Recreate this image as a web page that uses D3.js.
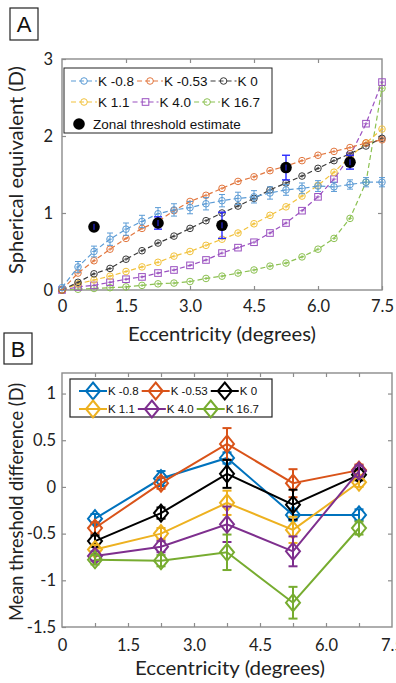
<!DOCTYPE html>
<html><head><meta charset="utf-8">
<script src="https://cdn.jsdelivr.net/npm/d3@7"></script>
<style>
html,body{margin:0;padding:0;background:#fff;}
svg{display:block;}
</style></head>
<body>
<svg id="chart" width="396" height="683"></svg>
<script>
// ---------- Panel A data ----------
const eccA = [0, 0.375, 0.75, 1.125, 1.5, 1.875, 2.25, 2.625, 3.0, 3.375, 3.75, 4.125, 4.5, 4.875, 5.25, 5.625, 6.0, 6.375, 6.75, 7.125, 7.5];
const seriesNamesA = ["K -0.8", "K -0.53", "K 0", "K 1.1", "K 4.0", "K 16.7"];
const kNeg08A  = [0.03, 0.30, 0.50, 0.66, 0.79, 0.89, 0.99, 1.04, 1.07, 1.12, 1.16, 1.19, 1.21, 1.26, 1.30, 1.32, 1.35, 1.34, 1.37, 1.40, 1.40];
const kNeg053A = [0.00, 0.22, 0.38, 0.53, 0.67, 0.80, 0.89, 1.03, 1.15, 1.23, 1.32, 1.41, 1.47, 1.55, 1.61, 1.68, 1.75, 1.80, 1.85, 1.91, 1.95];
const k0A      = [0.00, 0.10, 0.21, 0.28, 0.40, 0.51, 0.61, 0.70, 0.80, 0.90, 1.00, 1.09, 1.19, 1.30, 1.39, 1.48, 1.58, 1.68, 1.77, 1.87, 1.97];
const k11A     = [0.00, 0.08, 0.13, 0.18, 0.24, 0.30, 0.36, 0.44, 0.50, 0.58, 0.66, 0.74, 0.86, 0.97, 1.08, 1.22, 1.36, 1.53, 1.73, 1.91, 2.09];
const k40A     = [0.00, 0.04, 0.06, 0.10, 0.14, 0.17, 0.22, 0.26, 0.32, 0.39, 0.48, 0.55, 0.62, 0.74, 0.87, 1.03, 1.21, 1.44, 1.74, 2.16, 2.70];
const k167A    = [0.00, 0.01, 0.02, 0.03, 0.04, 0.06, 0.08, 0.09, 0.11, 0.15, 0.18, 0.22, 0.26, 0.31, 0.35, 0.43, 0.53, 0.67, 0.93, 1.40, 2.62];
const errNeg08A = [0.02, 0.07, 0.07, 0.08, 0.08, 0.08, 0.08, 0.08, 0.08, 0.08, 0.08, 0.08, 0.08, 0.08, 0.07, 0.07, 0.07, 0.06, 0.06, 0.06, 0.06];
const errSmallA = [0.01, 0.02, 0.02, 0.02, 0.02, 0.02, 0.02, 0.02, 0.02, 0.02, 0.02, 0.02, 0.02, 0.02, 0.02, 0.02, 0.02, 0.02, 0.02, 0.02, 0.02];
const zonalX   = [0.75, 2.25, 3.75, 5.25, 6.75];
const zonalY   = [0.82, 0.87, 0.84, 1.59, 1.66];
const zonalErr = [0.04, 0.08, 0.17, 0.16, 0.09];
const zonalLabel = "Zonal threshold estimate";
const xTicksA = [0, 1.5, 3.0, 4.5, 6.0, 7.5];
const yTicksA = [0, 1, 2, 3];

// ---------- Panel B data ----------
const eccB = [0.75, 2.25, 3.75, 5.25, 6.75];
const seriesNamesB = ["K -0.8", "K -0.53", "K 0", "K 1.1", "K 4.0", "K 16.7"];
const kNeg08B  = [-0.34, 0.09, 0.31, -0.30, -0.30];
const kNeg053B = [-0.44, 0.04, 0.46, 0.04, 0.18];
const k0B      = [-0.58, -0.28, 0.14, -0.19, 0.13];
const k11B     = [-0.67, -0.50, -0.17, -0.46, 0.05];
const k40B     = [-0.74, -0.64, -0.40, -0.69, 0.17];
const k167B    = [-0.78, -0.79, -0.70, -1.24, -0.44];
const errNeg08B  = [0.05, 0.08, 0.06, 0.06, 0.06];
const errNeg053B = [0.06, 0.06, 0.17, 0.15, 0.06];
const err0B      = [0.06, 0.06, 0.15, 0.16, 0.06];
const err11B     = [0.05, 0.06, 0.13, 0.14, 0.05];
const err40B     = [0.05, 0.06, 0.19, 0.16, 0.06];
const err167B    = [0.05, 0.06, 0.19, 0.17, 0.07];
const xTicksB = [0, 1.5, 3.0, 4.5, 6.0, 7.5];
const xMinorB = [0.75, 2.25, 3.75, 5.25, 6.75];
const yTicksB = [-1.5, -1, -0.5, 0, 0.5, 1];

const colorsA = ["#5b9bd5", "#e2773f", "#3a3a3a", "#f2c23c", "#9a50c0", "#8cc152"];
const colorsB = ["#0072BD", "#D95319", "#000000", "#EDB120", "#7E2F8E", "#77AC30"];

const svg = d3.select("#chart");
const axisColor = "#8c8c8c";
const labelFont = "Lato, 'Open Sans', sans-serif";
const legendFont = "'Liberation Sans', Arial, sans-serif";

// ================= PANEL A =================
const A = {l: 62, r: 382, t: 59, b: 290};
const xA = d3.scaleLinear().domain([0, 7.5]).range([A.l, A.r]);
const yA = d3.scaleLinear().domain([0, 3]).range([A.b, A.t]);

const gA = svg.append("g");
gA.append("rect").attr("x", A.l).attr("y", A.t).attr("width", A.r - A.l).attr("height", A.b - A.t)
  .attr("fill", "none").attr("stroke", axisColor).attr("stroke-width", 1.4);

function styleAxis(g, showText) {
  g.select(".domain").remove();
  g.selectAll(".tick line").attr("stroke", axisColor).attr("stroke-width", 1.2);
  g.selectAll(".tick text").attr("fill", "#222").style("font-family", labelFont).style("font-size", "16.5px");
  if (!showText) g.selectAll(".tick text").remove();
}

gA.append("g").attr("transform", `translate(0,${A.b})`)
  .call(d3.axisBottom(xA).tickValues(xTicksA).tickFormat((d,i)=> i===0 ? "0" : d3.format(".1f")(d)).tickSize(-4).tickPadding(10))
  .call(g => styleAxis(g, true));
gA.append("g").attr("transform", `translate(0,${A.t})`)
  .call(d3.axisTop(xA).tickValues(xTicksA.slice(1, -1)).tickSize(-4))
  .call(g => styleAxis(g, false));
gA.append("g").attr("transform", `translate(${A.l},0)`)
  .call(d3.axisLeft(yA).tickValues(yTicksA).tickFormat(d3.format("d")).tickSize(-4).tickPadding(9))
  .call(g => styleAxis(g, true));
gA.append("g").attr("transform", `translate(${A.r},0)`)
  .call(d3.axisRight(yA).tickValues(yTicksA.slice(1, -1)).tickSize(-4))
  .call(g => styleAxis(g, false));

const seriesA = [kNeg08A, kNeg053A, k0A, k11A, k40A, k167A];
const errsA = [errNeg08A, errSmallA, errSmallA, errSmallA, errSmallA, errSmallA];
const lineA = d3.line().x(d => xA(d[0])).y(d => yA(d[1]));

function markerA(sel, i, r) {
  if (i === 4) {
    sel.append("rect").attr("x", -r).attr("y", -r).attr("width", 2*r).attr("height", 2*r)
      .attr("fill", "none").attr("stroke", colorsA[i]).attr("stroke-width", 1);
  } else {
    sel.append("circle").attr("r", r).attr("fill", "none").attr("stroke", colorsA[i]).attr("stroke-width", 1);
  }
}

const orderA = [5, 4, 3, 2, 1, 0];
orderA.forEach(i => {
  const pts = eccA.map((x, j) => [x, seriesA[i][j], errsA[i][j]]);
  const g = gA.append("g");
  g.append("path").datum(pts).attr("d", lineA).attr("fill", "none")
    .attr("stroke", colorsA[i]).attr("stroke-width", 1.2).attr("stroke-dasharray", "5,3");
  pts.forEach(p => {
    const x = xA(p[0]), y1 = yA(p[1] - p[2]), y2 = yA(p[1] + p[2]);
    g.append("line").attr("x1", x).attr("x2", x).attr("y1", y1).attr("y2", y2)
      .attr("stroke", colorsA[i]).attr("stroke-width", 1);
    if (p[2] > 0.03) {
      [y1, y2].forEach(yy => g.append("line").attr("x1", x - 3).attr("x2", x + 3).attr("y1", yy).attr("y2", yy)
        .attr("stroke", colorsA[i]).attr("stroke-width", 1));
    }
    const m = g.append("g").attr("transform", `translate(${x},${yA(p[1])})`);
    markerA(m, i, 3.3);
    m.append("line").attr("x1", -2.5).attr("x2", 2.5).attr("stroke", colorsA[i]).attr("stroke-width", 0.8);
  });
});

// zonal estimates
zonalX.forEach((x, j) => {
  const px = xA(x), y1 = yA(zonalY[j] - zonalErr[j]), y2 = yA(zonalY[j] + zonalErr[j]);
  gA.append("line").attr("x1", px).attr("x2", px).attr("y1", y1).attr("y2", y2).attr("stroke", "#2a2aff").attr("stroke-width", 1.4);
  [y1, y2].forEach(yy => gA.append("line").attr("x1", px - 4).attr("x2", px + 4).attr("y1", yy).attr("y2", yy).attr("stroke", "#2a2aff").attr("stroke-width", 1.4));
  gA.append("circle").attr("cx", px).attr("cy", yA(zonalY[j])).attr("r", 5.8).attr("fill", "#000");
  gA.append("line").attr("x1", px).attr("x2", px).attr("y1", yA(zonalY[j]) - 3).attr("y2", yA(zonalY[j]) + 3).attr("stroke", "#2a2aff").attr("stroke-width", 1);
});

// legend A
const legA = gA.append("g");
legA.append("rect").attr("x", 64).attr("y", 68).attr("width", 208).attr("height", 65)
  .attr("fill", "#fff").attr("stroke", "#222").attr("stroke-width", 1);
function flowLegend(g, names, colors, rows, x0, rowYs, sampleW, gap, fontSize, drawMarker) {
  rows.forEach((row, ri) => {
    let x = x0;
    row.forEach(i => {
      const y = rowYs[ri];
      drawMarker(g, i, x, y, sampleW);
      const t = g.append("text").attr("x", x + sampleW + 1).attr("y", y).attr("dy", "0.36em")
        .style("font-family", legendFont).style("font-size", fontSize + "px").attr("fill", "#111").text(names[i]);
      x += sampleW + 1 + t.node().getComputedTextLength() + gap;
    });
  });
}
flowLegend(legA, seriesNamesA, colorsA, [[0,1,2],[3,4,5]], 71, [81, 102], 26, 3, 13.5, (g, i, x, y, w) => {
  g.append("line").attr("x1", x).attr("x2", x + w).attr("y1", y).attr("y2", y)
    .attr("stroke", colorsA[i]).attr("stroke-width", 1.2).attr("stroke-dasharray", "5,3");
  const m = g.append("g").attr("transform", `translate(${x + w/2},${y})`);
  markerA(m, i, 3.3);
});
legA.append("circle").attr("cx", 79).attr("cy", 124).attr("r", 5.8).attr("fill", "#000");
legA.append("text").attr("x", 93).attr("y", 124).attr("dy", "0.36em").style("font-family", legendFont)
  .style("font-size", "13.5px").attr("fill", "#111").text(zonalLabel);

// axis labels A
svg.append("text").attr("x", (A.l + A.r) / 2).attr("y", 341).attr("text-anchor", "middle")
  .attr("textLength", 188).attr("lengthAdjust", "spacingAndGlyphs")
  .style("font-family", labelFont).style("font-size", "19.5px").attr("fill", "#222").text("Eccentricity (degrees)");
svg.append("text").attr("transform", `translate(23,170) rotate(-90)`).attr("text-anchor", "middle")
  .attr("textLength", 208).attr("lengthAdjust", "spacingAndGlyphs")
  .style("font-family", labelFont).style("font-size", "20px").attr("fill", "#222").text("Spherical equivalent (D)");

// panel letter A
svg.append("rect").attr("x", 10).attr("y", 8).attr("width", 28).attr("height", 32).attr("fill", "#fff").attr("stroke", "#222").attr("stroke-width", 1.2);
svg.append("text").attr("x", 24).attr("y", 32).attr("text-anchor", "middle").style("font-family", legendFont).style("font-size", "22px").attr("fill", "#111").text("A");

// ================= PANEL B =================
const B = {l: 62, r: 392, t: 373, b: 627};
const xB = d3.scaleLinear().domain([0, 7.5]).range([B.l, B.r]);
const yB = d3.scaleLinear().domain([-1.5, 1.22]).range([B.b, B.t]);
const gB = svg.append("g");
gB.append("rect").attr("x", B.l).attr("y", B.t).attr("width", B.r - B.l).attr("height", B.b - B.t)
  .attr("fill", "none").attr("stroke", axisColor).attr("stroke-width", 1.4);
const allXTicksB = xTicksB.concat(xMinorB).sort((a,b)=>a-b);
gB.append("g").attr("transform", `translate(0,${B.b})`)
  .call(d3.axisBottom(xB).tickValues(allXTicksB.slice(1, -1)).tickSize(-4)).call(g => styleAxis(g, false));
gB.append("g").attr("transform", `translate(0,${B.b})`)
  .call(d3.axisBottom(xB).tickValues(xTicksB).tickFormat((d,i)=> i===0 ? "0" : d3.format(".1f")(d)).tickSize(0).tickPadding(12))
  .call(g => styleAxis(g, true));
gB.append("g").attr("transform", `translate(0,${B.t})`)
  .call(d3.axisTop(xB).tickValues(allXTicksB.slice(1, -1)).tickSize(-4)).call(g => styleAxis(g, false));
gB.append("g").attr("transform", `translate(${B.l},0)`)
  .call(d3.axisLeft(yB).tickValues(yTicksB).tickFormat(d => d3.format("")(d)).tickSize(-4).tickPadding(6))
  .call(g => styleAxis(g, true));
gB.selectAll(".tick text").filter(function(){ return this.textContent.startsWith("−"); }).text(function(){ return this.textContent.replace("−", "-"); });
gB.append("g").attr("transform", `translate(${B.r},0)`)
  .call(d3.axisRight(yB).tickValues(yTicksB.slice(1)).tickSize(-4)).call(g => styleAxis(g, false));

const seriesB = [kNeg08B, kNeg053B, k0B, k11B, k40B, k167B];
const errsB = [errNeg08B, errNeg053B, err0B, err11B, err40B, err167B];
const lineB = d3.line().x(d => xB(d[0])).y(d => yB(d[1]));
function diamond(g, x, y, color) {
  const w = 7, h = 8.5;
  g.append("path").attr("d", `M${x},${y-h} Q${x+w*0.55},${y-h*0.45} ${x+w},${y} Q${x+w*0.55},${y+h*0.45} ${x},${y+h} Q${x-w*0.55},${y+h*0.45} ${x-w},${y} Q${x-w*0.55},${y-h*0.45} ${x},${y-h} Z`)
    .attr("fill", "none").attr("stroke", color).attr("stroke-width", 2);
}
seriesB.forEach((s, i) => {
  const pts = eccB.map((x, j) => [x, s[j], errsB[i][j]]);
  const g = gB.append("g");
  g.append("path").datum(pts).attr("d", lineB).attr("fill", "none").attr("stroke", colorsB[i]).attr("stroke-width", 2);
  pts.forEach(p => {
    const x = xB(p[0]), y1 = yB(p[1] - p[2]), y2 = yB(p[1] + p[2]);
    g.append("line").attr("x1", x).attr("x2", x).attr("y1", y1).attr("y2", y2).attr("stroke", colorsB[i]).attr("stroke-width", 2);
    [y1, y2].forEach(yy => g.append("line").attr("x1", x - 4.5).attr("x2", x + 4.5).attr("y1", yy).attr("y2", yy).attr("stroke", colorsB[i]).attr("stroke-width", 2));
    diamond(g, x, yB(p[1]), colorsB[i]);
  });
});

// legend B
const legB = gB.append("g");
legB.append("rect").attr("x", 70).attr("y", 379).attr("width", 202).attr("height", 38)
  .attr("fill", "#fff").attr("stroke", "#222").attr("stroke-width", 1.2);
flowLegend(legB, seriesNamesB, colorsB, [[0,1,2],[3,4,5]], 79, [391, 409], 28, 3, 11.5, (g, i, x, y, w) => {
  g.append("line").attr("x1", x).attr("x2", x + w).attr("y1", y).attr("y2", y).attr("stroke", colorsB[i]).attr("stroke-width", 2);
  diamond(g, x + w/2, y, colorsB[i]);
});

svg.append("text").attr("x", 230).attr("y", 675).attr("text-anchor", "middle")
  .attr("textLength", 190).attr("lengthAdjust", "spacingAndGlyphs")
  .style("font-family", labelFont).style("font-size", "19.5px").attr("fill", "#222").text("Eccentricity (degrees)");
svg.append("text").attr("transform", `translate(23,502) rotate(-90)`).attr("text-anchor", "middle")
  .attr("textLength", 238).attr("lengthAdjust", "spacingAndGlyphs")
  .style("font-family", labelFont).style("font-size", "19.5px").attr("fill", "#222").text("Mean threshold difference (D)");

svg.append("rect").attr("x", 4).attr("y", 333).attr("width", 28).attr("height", 31).attr("fill", "#fff").attr("stroke", "#222").attr("stroke-width", 1.2);
svg.append("text").attr("x", 18).attr("y", 357).attr("text-anchor", "middle").style("font-family", legendFont).style("font-size", "22px").attr("fill", "#111").text("B");
</script>
</body></html>
